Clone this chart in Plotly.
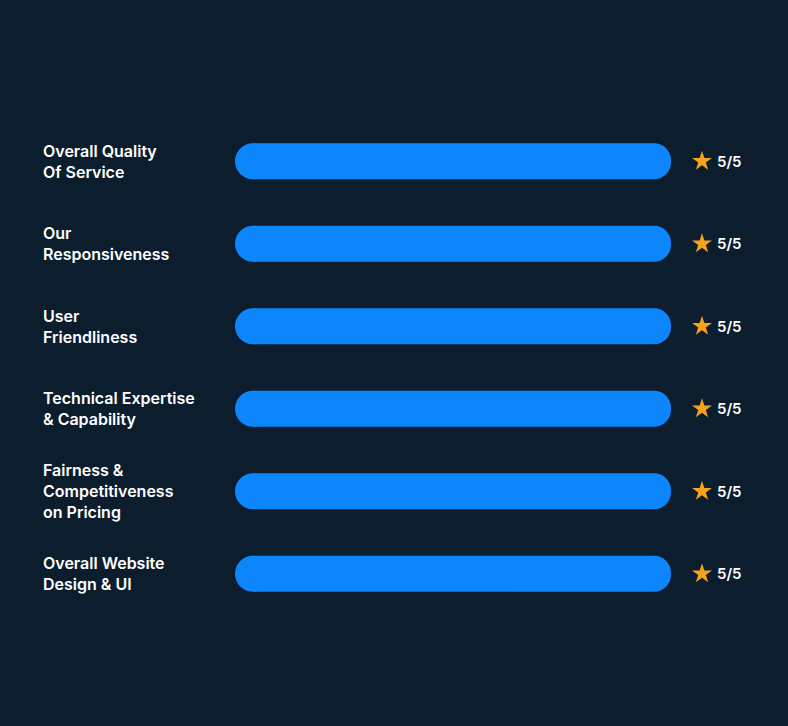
import plotly.graph_objects as go

# ---- data ----
categories = [
    "Overall Quality<br>Of Service",
    "Our<br>Responsiveness",
    "User<br>Friendliness",
    "Technical Expertise<br>& Capability",
    "Fairness &<br>Competitiveness<br>on Pricing",
    "Overall Website<br>Design & UI",
]
scores = [5, 5, 5, 5, 5, 5]
max_score = 5
rating_labels = [f"{s}/{max_score}" for s in scores]

# ---- style ----
BG = "#0c1d2e"
BAR = "#0d86fb"
STAR = "#f7a21b"
FONT = "Inter"
W, H = 788, 726
ML, MR, MT, MB = 253, 28, 120, 111
BAR_PX = 36
px_per_unit = (671 - ML) / max_score
x_max = (W - ML - MR) / px_per_unit

fig = go.Figure()
# bar body with rounded right end
fig.add_trace(go.Bar(
    y=categories, x=scores, orientation="h", width=0.436,
    marker=dict(color=BAR, cornerradius=BAR_PX // 2, line=dict(width=0)),
    hoverinfo="skip",
))
# rounded left cap at the bar base
fig.add_trace(go.Scatter(
    y=categories, x=[0] * len(scores), mode="markers",
    marker=dict(symbol="circle", size=BAR_PX, color=BAR, line=dict(width=0)),
    hoverinfo="skip", cliponaxis=False,
))
# stars
fig.add_trace(go.Scatter(
    y=categories, x=[s + 31 / px_per_unit for s in scores], mode="markers",
    marker=dict(symbol="star", size=15, color=STAR, line=dict(width=0)),
    hoverinfo="skip", cliponaxis=False,
))

annotations = []
for cat, s, lab in zip(categories, scores, rating_labels):
    annotations.append(dict(
        x=0, xref="paper", y=cat, yref="y", text=cat, showarrow=False,
        xanchor="left", yanchor="middle", align="left", xshift=-(ML - 41),
        font=dict(family=FONT, size=16, color="white", weight=600),
    ))
    annotations.append(dict(
        x=s, xref="x", y=cat, yref="y", text=lab, showarrow=False,
        xanchor="left", yanchor="middle", xshift=44,
        font=dict(family=FONT, size=15, color="white", weight=600),
    ))

fig.update_layout(
    width=W, height=H,
    margin=dict(l=ML, r=MR, t=MT, b=MB),
    paper_bgcolor=BG, plot_bgcolor=BG,
    barmode="overlay", showlegend=False,
    xaxis=dict(range=[0, x_max], visible=False, fixedrange=True),
    yaxis=dict(type="category", categoryorder="array", categoryarray=categories,
               range=[len(categories) - 0.5, -0.5], visible=False, fixedrange=True),
    annotations=annotations,
    hovermode=False,
)

fig.write_html(
    "out.html",
    config={"displayModeBar": False},
    post_script="document.body.style.margin='0';document.body.style.background='%s';" % BG,
)
